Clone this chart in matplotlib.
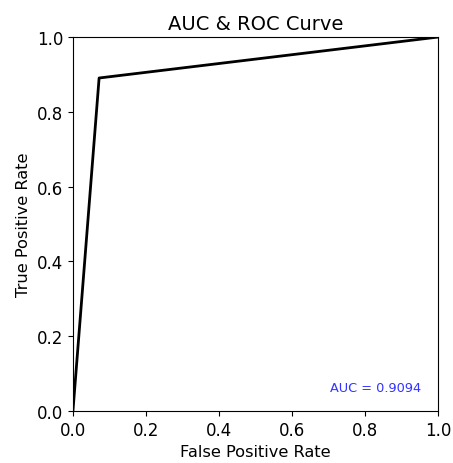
import numpy as np
import matplotlib
matplotlib.use('Agg')
import matplotlib.pyplot as plt

fpr = np.array([0.0, 0.0717, 1.0])
tpr = np.array([0.0, 0.8905, 1.0])
auc_score = 0.9094


def main():
    plt.rcParams['font.size'] = 11.5
    fig = plt.figure(figsize=(4.53, 4.64), dpi=100)
    ax = fig.add_axes([0.161, 0.112, 0.806, 0.806])
    ax.plot(fpr, tpr, color='black', linewidth=2)
    ax.set_xlim(0, 1)
    ax.set_ylim(0, 1)
    ax.tick_params(labelsize=12)
    ax.set_xlabel('False Positive Rate', fontsize=11.7)
    ax.set_ylabel('True Positive Rate', fontsize=11.7)
    ax.set_title('AUC & ROC Curve', fontsize=14)
    ax.text(0.953, 0.064, 'AUC = %.4f' % auc_score, color='#3333ff', fontsize=9.3,
            ha='right', va='center', transform=ax.transAxes)
    fig.savefig('out.png', dpi=100)


if __name__ == '__main__':
    main()
